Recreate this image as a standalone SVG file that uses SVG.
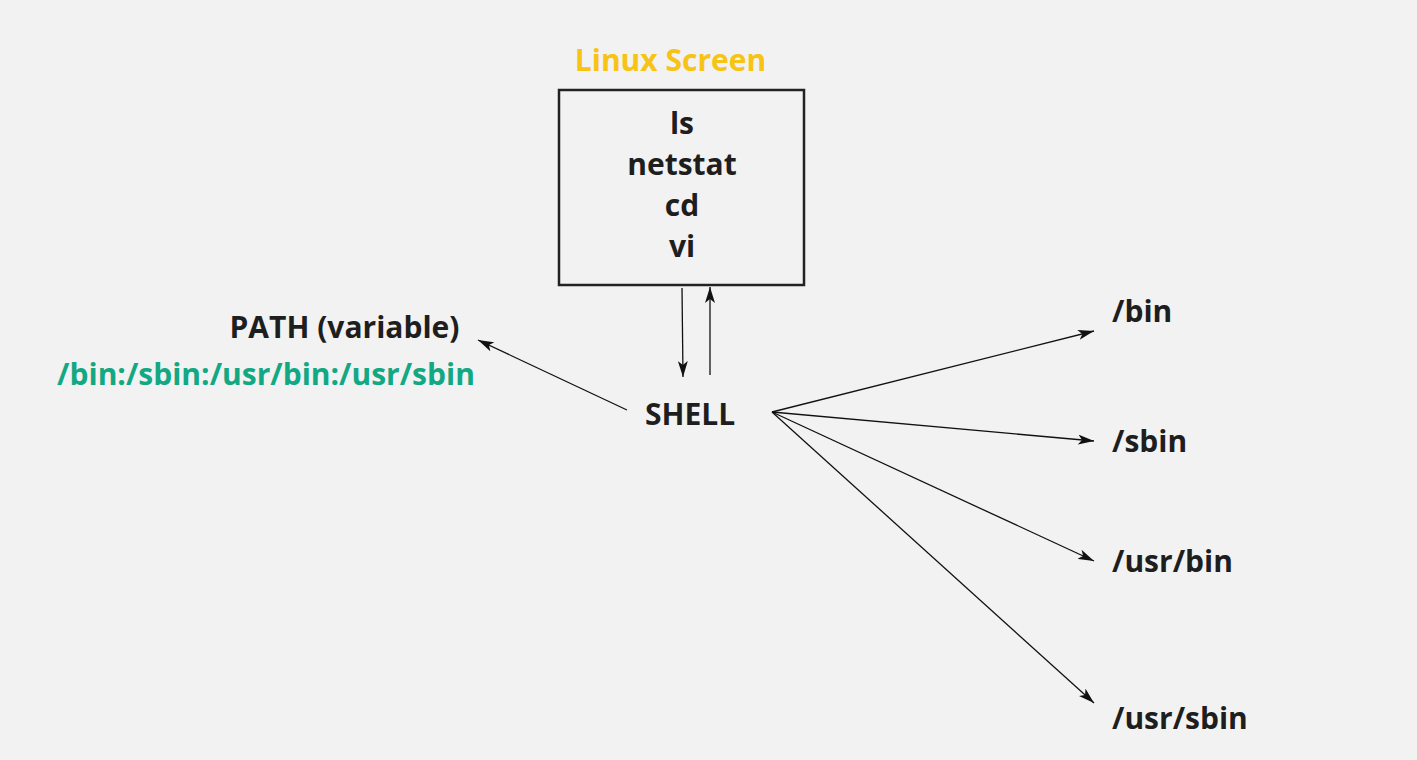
<svg xmlns="http://www.w3.org/2000/svg" width="1417" height="760" viewBox="0 0 1417 760">
<defs>
<marker id="ah" viewBox="0 0 16 10" refX="16" refY="5" markerWidth="16" markerHeight="10" markerUnits="userSpaceOnUse" orient="auto">
<path d="M0,0 L16,5 L0,10 L4,5 Z" fill="#111"/>
</marker>
<style>
.t{font-family:"Open Sans","Liberation Sans",sans-serif;font-weight:bold;fill:#1e1e1e;font-size:30px}
.c{stroke:#111;stroke-width:1.3;fill:none;marker-end:url(#ah)}
</style>
</defs>
<rect width="1417" height="760" fill="#f2f2f2"/>
<g id="linux-screen">
<text x="670.5" y="71" text-anchor="middle" class="t" style="fill:#f7c315">Linux Screen</text>
<rect x="559" y="90" width="245" height="195" fill="none" stroke="#222" stroke-width="2.5"/>
<text x="682" y="134" text-anchor="middle" class="t">ls</text>
<text x="682" y="175" text-anchor="middle" class="t">netstat</text>
<text x="682" y="216" text-anchor="middle" class="t">cd</text>
<text x="682" y="257" text-anchor="middle" class="t">vi</text>
</g>
<g id="shell"><text x="690" y="425" text-anchor="middle" class="t">SHELL</text></g>
<g id="path-var">
<text x="344.5" y="338" text-anchor="middle" class="t">PATH (variable)</text>
<text x="266" y="385" text-anchor="middle" class="t" style="fill:#13a884">/bin:/sbin:/usr/bin:/usr/sbin</text>
</g>
<g id="bin"><text x="1112" y="322" class="t">/bin</text></g>
<g id="sbin"><text x="1112" y="452" class="t">/sbin</text></g>
<g id="usrbin"><text x="1112" y="572" class="t">/usr/bin</text></g>
<g id="usrsbin"><text x="1112" y="729" class="t">/usr/sbin</text></g>
<g id="connectors">
<line class="c" x1="682" y1="288" x2="683" y2="377"/>
<line class="c" x1="710" y1="375" x2="710" y2="287"/>
<line class="c" x1="627" y1="410" x2="478" y2="340"/>
<line class="c" x1="772" y1="412" x2="1094" y2="331"/>
<line class="c" x1="772" y1="412" x2="1094" y2="441"/>
<line class="c" x1="772" y1="412" x2="1094" y2="561"/>
<line class="c" x1="772" y1="412" x2="1094" y2="703"/>
</g>
</svg>
